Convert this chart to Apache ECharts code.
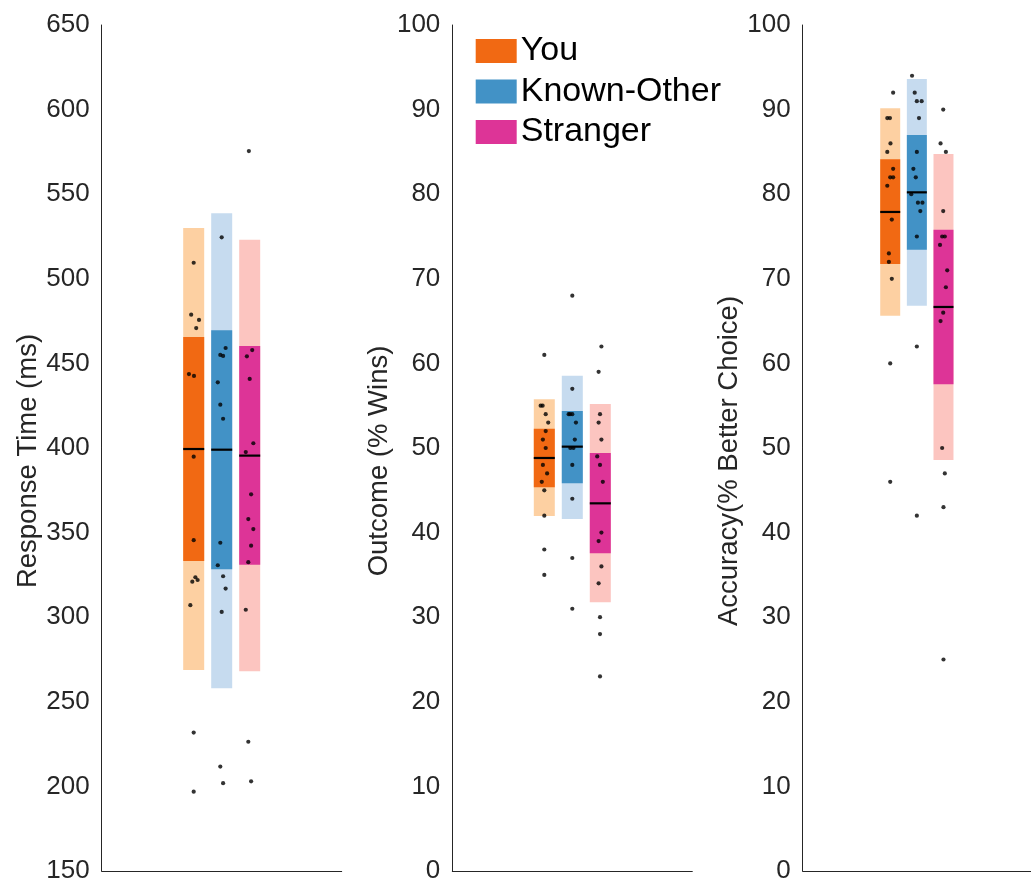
<!DOCTYPE html>
<html>
<head>
<meta charset="utf-8">
<script src="https://cdn.jsdelivr.net/npm/echarts@6/dist/echarts.min.js"></script>
<style>html,body{margin:0;padding:0;background:#fff}#c{width:1031px;height:884px}</style>
</head>
<body>
<div id="c"></div>
<script>
// ---------- data ----------
const groups = ['You', 'Known-Other', 'Stranger'];
const groupX = [1, 2, 3];

// Panel 1: Response Time (ms)
const rtOuterLo = [268.8, 258.0, 268.0];
const rtOuterHi = [530.0, 538.7, 523.1];
const rtInnerLo = [333.2, 328.3, 331.0];
const rtInnerHi = [465.6, 469.6, 460.3];
const rtMean    = [399.4, 399.0, 395.5];
const rtYou      = [509.5, 478.8, 475.7, 470.9, 443.7, 442.6, 394.9, 345.5, 323.6, 321.0, 322.0, 307.1, 231.8, 196.9];
const rtYouJit   = [0, -0.09, 0.19, 0.09, -0.17, 0.01, 0, 0, 0.06, -0.05, 0.14, -0.12, 0, 0];
const rtKnown    = [524.5, 459.1, 455.0, 454.4, 438.8, 425.6, 417.3, 344.0, 330.7, 324.2, 316.9, 303.1, 211.7, 201.9];
const rtKnownJit = [0, 0.14, -0.05, 0.05, -0.14, -0.05, 0.05, -0.05, -0.14, 0.05, 0.14, 0, -0.05, 0.05];
const rtStr      = [575.5, 457.9, 454.2, 440.8, 402.8, 397.6, 372.6, 358.0, 352.1, 342.3, 332.5, 304.4, 226.4, 203.0];
const rtStrJit   = [-0.03, 0.09, -0.1, 0, 0.13, -0.14, 0.05, -0.05, 0.13, 0.05, -0.05, -0.14, -0.05, 0.05];
const rtTicks = [150, 650, 50];

// Panel 2: Outcome (% Wins)
const ocOuterLo = [41.96, 41.61, 31.76];
const ocOuterHi = [55.76, 58.55, 55.20];
const ocInnerLo = [45.35, 45.83, 37.55];
const ocInnerHi = [52.28, 54.37, 49.41];
const ocMean    = [48.82, 50.16, 43.46];
const ocYou      = [61, 55, 55, 54, 53, 52, 51, 50, 48, 47, 46, 45, 42, 38, 35];
const ocYouJit   = [0, -0.13, -0.06, 0.05, 0.14, 0.05, -0.05, 0.05, -0.05, 0.1, -0.09, 0, 0, 0, 0];
const ocKnown    = [68, 57, 54, 54, 54, 53, 51, 50, 50, 48, 44, 37, 31];
const ocKnownJit = [0, 0, -0.13, -0.08, 0, 0.13, 0.09, -0.07, 0.04, 0, 0, 0, 0];
const ocStr      = [62, 59, 54, 53, 51, 49, 48, 46, 40, 39, 36, 34, 30, 28, 23];
const ocStrJit   = [0.04, -0.06, -0.01, -0.06, 0.04, -0.11, -0.01, 0.09, 0.04, -0.06, 0.04, -0.06, -0.01, -0.01, -0.01];
const pctTicks = [0, 100, 10];

// Panel 3: Accuracy (% Better Choice)
const acOuterLo = [65.64, 66.82, 48.58];
const acOuterHi = [90.15, 93.62, 84.75];
const acInnerLo = [71.75, 73.44, 57.53];
const acInnerHi = [84.13, 87.00, 75.80];
const acMean    = [77.90, 80.22, 66.67];
const acYou      = [92, 89, 89, 86, 85, 83, 82, 82, 81, 77, 73, 72, 70, 60, 46];
const acYouJit   = [0.11, -0.11, -0.01, 0.01, -0.11, 0.11, 0, 0.11, -0.11, 0.06, -0.05, -0.05, 0.06, 0, 0];
const acKnown    = [94, 92, 91, 91, 89, 85, 83, 82, 80, 79, 79, 78, 75, 62, 42];
const acKnownJit = [-0.18, -0.08, 0, 0.18, 0.08, 0, -0.13, -0.04, -0.21, 0.04, 0.21, 0.13, 0, 0, 0];
const acStr      = [90, 86, 85, 78, 75, 75, 74, 71, 69, 66, 65, 50, 47, 43, 25];
const acStrJit   = [-0.01, -0.11, 0.09, -0.01, -0.05, 0.05, -0.13, 0.14, 0.09, -0.01, -0.11, -0.05, 0.05, 0, 0];

const axisTitles = ['Response Time (ms)', 'Outcome (% Wins)', 'Accuracy(% Better Choice)'];

// ---------- styles ----------
const darkColors  = ['#f16913', '#4292c6', '#dd3497'];
const lightColors = ['#fdd0a2', '#c6dbef', '#fcc5c0'];
const FONT = '"Liberation Sans", Arial, Helvetica, sans-serif';
const AX = '#262626';
const boxW = 0.75;
const xSpan = 120 / 28;
const gridLefts = [101.7, 452.3, 802.7];

const panels = [
  {ticks: rtTicks, stats: [rtOuterLo, rtOuterHi, rtInnerLo, rtInnerHi, rtMean],
   dots: [[rtYou, rtYouJit], [rtKnown, rtKnownJit], [rtStr, rtStrJit]]},
  {ticks: pctTicks, stats: [ocOuterLo, ocOuterHi, ocInnerLo, ocInnerHi, ocMean],
   dots: [[ocYou, ocYouJit], [ocKnown, ocKnownJit], [ocStr, ocStrJit]]},
  {ticks: pctTicks, stats: [acOuterLo, acOuterHi, acInnerLo, acInnerHi, acMean],
   dots: [[acYou, acYouJit], [acKnown, acKnownJit], [acStr, acStrJit]]}
];

const grid = [], xAxis = [], yAxis = [], series = [];
panels.forEach((p, pi) => {
  grid.push({left: gridLefts[pi], top: 25, width: 240, height: 846, containLabel: false});
  xAxis.push({
    type: 'value', gridIndex: pi, min: 2 - xSpan, max: 2 + xSpan,
    axisLine: {show: true, onZero: false, lineStyle: {color: AX, width: 1}},
    axisTick: {show: false}, axisLabel: {show: false}, splitLine: {show: false}
  });
  yAxis.push({
    type: 'value', gridIndex: pi, min: p.ticks[0], max: p.ticks[1], interval: p.ticks[2],
    name: axisTitles[pi], nameLocation: 'middle', nameRotate: 90, nameGap: 58,
    nameTextStyle: {fontSize: 27.5, color: AX, fontFamily: FONT, padding: [0, 26, 0, 0]},
    axisLine: {show: true, onZero: false, lineStyle: {color: AX, width: 1}},
    axisTick: {show: false}, splitLine: {show: false},
    axisLabel: {fontSize: 26, color: AX, fontFamily: FONT, margin: 12}
  });
  groups.forEach((g, gi) => {
    const s = p.stats;
    series.push({
      type: 'custom', name: g, xAxisIndex: pi, yAxisIndex: pi,
      itemStyle: {color: darkColors[gi]},
      silent: true, z: 2,
      data: [[groupX[gi], s[0][gi], s[1][gi], s[2][gi], s[3][gi], s[4][gi]]],
      renderItem: (params, api) => {
        const x = api.value(0);
        const w = api.size([boxW, 0])[0];
        const oLo = api.coord([x, api.value(1)]);
        const oHi = api.coord([x, api.value(2)]);
        const iLo = api.coord([x, api.value(3)]);
        const iHi = api.coord([x, api.value(4)]);
        const m = api.coord([x, api.value(5)]);
        return {type: 'group', children: [
          {type: 'rect', shape: {x: oHi[0] - w / 2, y: oHi[1], width: w, height: oLo[1] - oHi[1]},
           style: {fill: lightColors[gi]}},
          {type: 'rect', shape: {x: iHi[0] - w / 2, y: iHi[1], width: w, height: iLo[1] - iHi[1]},
           style: {fill: darkColors[gi]}},
          {type: 'line', shape: {x1: m[0] - w / 2, y1: m[1], x2: m[0] + w / 2, y2: m[1]},
           style: {stroke: '#000', lineWidth: 2.2}}
        ]};
      }
    });
  });
  const pts = [];
  p.dots.forEach((d, gi) => {
    d[0].forEach((v, i) => pts.push([groupX[gi] + d[1][i], v]));
  });
  series.push({
    type: 'scatter', name: 'dots' + pi, xAxisIndex: pi, yAxisIndex: pi,
    symbol: 'circle', symbolSize: 4.2, itemStyle: {color: '#000'},
    silent: true, z: 5, data: pts
  });
});

const chart = echarts.init(document.getElementById('c'), null, {renderer: 'canvas'});
chart.setOption({
  animation: false,
  backgroundColor: '#fff',
  grid, xAxis, yAxis, series,
  legend: {
    data: groups.map((g, gi) => ({name: g, itemStyle: {color: darkColors[gi]}})),
    orient: 'vertical', left: 475.7, top: 31.5, padding: 0,
    icon: 'rect', itemWidth: 41, itemHeight: 24, itemGap: 1.5,
    selectedMode: false,
    textStyle: {fontSize: 34, color: '#000', fontFamily: FONT, lineHeight: 34, padding: [5, 0, 0, -1]}
  }
});
</script>
</body>
</html>
